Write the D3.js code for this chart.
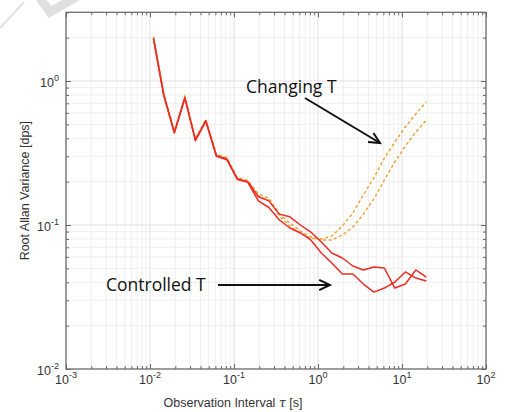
<!DOCTYPE html>
<html>
<head>
<meta charset="utf-8">
<script src="https://cdn.jsdelivr.net/npm/d3@7"></script>
<style>
  html, body { margin: 0; padding: 0; background: #fff; }
  svg { display: block; }
</style>
</head>
<body>
<svg id="chart" width="505" height="412"></svg>
<script>
// Observation intervals tau [s]
const tau = [0.011, 0.0146, 0.0195, 0.026, 0.0347, 0.0462, 0.0617, 0.0822, 0.1096,
  0.146, 0.195, 0.26, 0.347, 0.462, 0.617, 0.822, 1.096, 1.46, 1.95, 2.6, 3.47,
  4.62, 6.17, 8.22, 10.96, 14.6, 19.5];

// Root Allan variance [dps], temperature-controlled runs (solid)
const controlledA = [1.98, 0.80, 0.44, 0.77, 0.39, 0.53, 0.303, 0.287, 0.209, 0.200,
  0.157, 0.147, 0.119, 0.114, 0.100, 0.0894, 0.0762, 0.0639, 0.0590, 0.0519, 0.0487,
  0.0511, 0.0503, 0.0365, 0.0389, 0.0487, 0.0435];
const controlledB = [1.96, 0.79, 0.435, 0.76, 0.385, 0.525, 0.300, 0.284, 0.207, 0.198,
  0.147, 0.1323, 0.1083, 0.0953, 0.0880, 0.0787, 0.0639, 0.0545, 0.0457, 0.0457, 0.0389,
  0.0342, 0.0365, 0.0402, 0.0472, 0.0428, 0.0409];

// Root Allan variance [dps], changing-temperature runs (dashed)
const changingA = [2.03, 0.81, 0.45, 0.78, 0.40, 0.54, 0.31, 0.295, 0.213, 0.204,
  0.1642, 0.154, 0.119, 0.1033, 0.0909, 0.0825, 0.0799, 0.0838, 0.0984, 0.1212, 0.1616,
  0.2121, 0.2919, 0.377, 0.4794, 0.590, 0.7146];
const changingB = [2.0, 0.80, 0.44, 0.77, 0.39, 0.53, 0.305, 0.29, 0.21, 0.201,
  0.159, 0.1491, 0.1155, 0.0984, 0.088, 0.0812, 0.0787, 0.0787, 0.0852, 0.0968, 0.119,
  0.1516, 0.2054, 0.274, 0.3536, 0.4424, 0.536];

const xMajor = [1e-3, 1e-2, 1e-1, 1e0, 1e1, 1e2];
const xExponents = ["-3", "-2", "-1", "0", "1", "2"];
const yMajor = [1e-2, 1e-1, 1e0];
const yExponents = ["-2", "-1", "0"];

const svg = d3.select("#chart");

const left = 66, right = 486, bottom = 369, decadeY = 144;
const x = d3.scaleLog().domain([1e-3, 1e2]).range([left, right]);
const y = d3.scaleLog().domain([1e-2, 3]).range([bottom, bottom - decadeY * (2 + Math.log10(3))]);
const plotTop = y(3);
const W = right - left, H = bottom - plotTop;

// minor tick positions (2..9 in each decade)
function minors(lo, hi) {
  const out = [];
  for (let e = lo; e < hi; e++) for (let m = 2; m <= 9; m++) out.push(m * Math.pow(10, e));
  return out;
}
const xMinor = minors(-3, 2);
const yMinor = minors(-2, 1).filter(v => v <= 3);

// faint mark in the corner
svg.append("path").attr("d", "M0,28 L24,2").attr("stroke", "#e2e2e2").attr("stroke-width", 2).attr("fill", "none");
svg.append("path").attr("d", "M40,-2 L50,12 L78,-4").attr("stroke", "#e0e0e0").attr("stroke-width", 9).attr("fill", "none");

const g = svg.append("g");

// grid
const grid = g.append("g");
grid.selectAll(".gxm").data(xMinor).join("line")
  .attr("x1", d => x(d)).attr("x2", d => x(d)).attr("y1", plotTop).attr("y2", bottom)
  .attr("stroke", "#efefef").attr("stroke-width", 1);
grid.selectAll(".gym").data(yMinor).join("line")
  .attr("y1", d => y(d)).attr("y2", d => y(d)).attr("x1", left).attr("x2", right)
  .attr("stroke", "#efefef").attr("stroke-width", 1);
grid.selectAll(".gxM").data(xMajor).join("line")
  .attr("x1", d => x(d)).attr("x2", d => x(d)).attr("y1", plotTop).attr("y2", bottom)
  .attr("stroke", "#e0e0e0").attr("stroke-width", 1);
grid.selectAll(".gyM").data(yMajor).join("line")
  .attr("y1", d => y(d)).attr("y2", d => y(d)).attr("x1", left).attr("x2", right)
  .attr("stroke", "#e0e0e0").attr("stroke-width", 1);

// series
const line = d3.line().x((d, i) => x(tau[i])).y(d => y(d));
const dashed = [changingA, changingB];
const solid = [controlledA, controlledB];
g.selectAll(".chg").data(dashed).join("path")
  .attr("d", line).attr("fill", "none").attr("stroke", "#e8a030")
  .attr("stroke-width", 1.4).attr("stroke-dasharray", "3,2.5");
g.selectAll(".ctl").data(solid).join("path")
  .attr("d", line).attr("fill", "none").attr("stroke", "#ee2b25")
  .attr("stroke-width", 1.5).attr("stroke-linejoin", "round");

// axes with inward ticks on all four sides
const axisColor = "#666";
function styleAxis(sel) {
  sel.select(".domain").remove();
  sel.selectAll("line").attr("stroke", axisColor);
  sel.selectAll("text").remove();
}
g.append("g").attr("transform", `translate(0,${bottom})`)
  .call(d3.axisBottom(x).tickValues(xMajor).tickSize(-5)).call(styleAxis);
g.append("g").attr("transform", `translate(0,${bottom})`)
  .call(d3.axisBottom(x).tickValues(xMinor).tickSize(-3)).call(styleAxis);
g.append("g").attr("transform", `translate(0,${plotTop})`)
  .call(d3.axisTop(x).tickValues(xMajor).tickSize(-5)).call(styleAxis);
g.append("g").attr("transform", `translate(0,${plotTop})`)
  .call(d3.axisTop(x).tickValues(xMinor).tickSize(-3)).call(styleAxis);
g.append("g").attr("transform", `translate(${left},0)`)
  .call(d3.axisLeft(y).tickValues(yMajor).tickSize(-5)).call(styleAxis);
g.append("g").attr("transform", `translate(${left},0)`)
  .call(d3.axisLeft(y).tickValues(yMinor).tickSize(-3)).call(styleAxis);
g.append("g").attr("transform", `translate(${right},0)`)
  .call(d3.axisRight(y).tickValues(yMajor).tickSize(-5)).call(styleAxis);
g.append("g").attr("transform", `translate(${right},0)`)
  .call(d3.axisRight(y).tickValues(yMinor).tickSize(-3)).call(styleAxis);

// frame
g.append("rect").attr("x", left).attr("y", plotTop).attr("width", W).attr("height", H)
  .attr("fill", "none").attr("stroke", axisColor).attr("stroke-width", 1.2);

// tick labels with superscript exponents
const font = "'Liberation Sans', Arial, sans-serif";
const labelColor = "#333";
const xl = g.append("g");
xMajor.forEach((v, i) => {
  const t = xl.append("text").attr("x", x(v)).attr("y", 384)
    .attr("text-anchor", "middle").attr("font-family", font).attr("font-size", 12.5).attr("fill", labelColor);
  t.append("tspan").text("10");
  t.append("tspan").attr("dy", -6).attr("font-size", 9).text(xExponents[i]);
});
yMajor.forEach((v, i) => {
  const t = xl.append("text").attr("x", 59).attr("y", y(v) + 6)
    .attr("text-anchor", "end").attr("font-family", font).attr("font-size", 12.5).attr("fill", labelColor);
  t.append("tspan").text("10");
  t.append("tspan").attr("dy", -6).attr("font-size", 9).text(yExponents[i]);
});

// axis titles
const xt = svg.append("text").attr("x", 233).attr("y", 407).attr("text-anchor", "middle")
  .attr("font-family", font).attr("font-size", 12.5).attr("fill", labelColor);
xt.append("tspan").text("Observation Interval ");
xt.append("tspan").attr("font-family", "'DejaVu Serif', serif").attr("font-style", "italic").text("τ");
xt.append("tspan").text(" [s]");

svg.append("text").attr("transform", `translate(29,${(plotTop + bottom) / 2}) rotate(-90)`)
  .attr("text-anchor", "middle").attr("font-family", font).attr("font-size", 12.5)
  .attr("fill", labelColor).text("Root Allan Variance [dps]");

// annotations
const annFont = "'Open Sans', sans-serif";
svg.append("text").attr("x", 246).attr("y", 93).attr("font-family", annFont)
  .attr("font-size", 17.5).attr("fill", "#111").text("Changing T");
svg.append("text").attr("x", 106).attr("y", 291).attr("font-family", annFont)
  .attr("font-size", 17.5).attr("fill", "#111").text("Controlled T");

function arrow(x1, y1, x2, y2) {
  svg.append("line").attr("x1", x1).attr("y1", y1).attr("x2", x2).attr("y2", y2)
    .attr("stroke", "#111").attr("stroke-width", 2);
  const a = Math.atan2(y2 - y1, x2 - x1), L = 12, s = 0.45;
  const p1 = [x2 - L * Math.cos(a - s), y2 - L * Math.sin(a - s)];
  const p2 = [x2 - L * Math.cos(a + s), y2 - L * Math.sin(a + s)];
  svg.append("path").attr("d", `M${p1}L${x2},${y2}L${p2}`)
    .attr("fill", "none").attr("stroke", "#111").attr("stroke-width", 2)
    .attr("stroke-linejoin", "miter");
}
arrow(305, 98, 380, 143);
arrow(218, 285, 330, 285);
</script>
</body>
</html>
